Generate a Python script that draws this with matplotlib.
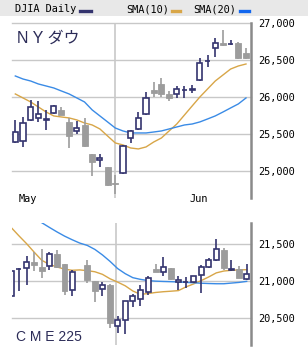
import numpy as np
import matplotlib
matplotlib.use("Agg")
import matplotlib.pyplot as plt
from matplotlib.patches import Rectangle
from matplotlib.lines import Line2D
from matplotlib.transforms import blended_transform_factory

# DJIA daily, 2019-05-14 .. 2019-06-26
dj_open = [25392, 25405, 25689, 25716, 25690, 25784, 25824, 25662, 25540, 25622,
           25230, 25149, 25054, 24838, 24973, 25446, 25568, 25770, 26095, 26176,
           26041, 26041, 26090, 26095, 26230, 26480, 26662, 26730, 26710, 26730, 26595]
dj_high = [25689, 25730, 25959, 25946, 25824, 25892, 25860, 25716, 25676, 25716,
           25230, 25230, 25060, 24946, 25351, 25554, 25797, 26068, 26203, 26257,
           26081, 26149, 26149, 26162, 26527, 26568, 26797, 26905, 26770, 26743, 26662]
dj_low = [25380, 25324, 25676, 25662, 25554, 25770, 25750, 25311, 25500, 25324,
          24932, 25054, 24795, 24689, 24960, 25378, 25555, 25760, 26000, 26000,
          25946, 25986, 25986, 26054, 26220, 26405, 26541, 26689, 26703, 26520, 26520]
dj_close = [25527, 25649, 25865, 25770, 25700, 25878, 25757, 25473, 25581, 25338,
            25122, 25176, 24811, 24824, 25338, 25540, 25716, 25986, 26054, 26041,
            25986, 26108, 26100, 26108, 26459, 26486, 26730, 26703, 26716, 26527, 26527]
dj_sma10 = [26041, 25987, 25933, 25865, 25798, 25744, 25730, 25717, 25690, 25649,
            25622, 25568, 25473, 25379, 25352, 25311, 25298, 25325, 25392, 25446,
            25541, 25635, 25757, 25879, 26000, 26108, 26216, 26297, 26378, 26419, 26446]
dj_sma20 = [26284, 26243, 26216, 26176, 26149, 26122, 26081, 26041, 25987, 25933,
            25825, 25744, 25663, 25581, 25541, 25514, 25514, 25514, 25527, 25541,
            25568, 25595, 25622, 25635, 25663, 25703, 25744, 25797, 25852, 25906, 25987]
dj_ticks = [26500, 26000, 25500, 25000]
dj_tick_labels = ["26,500", "26,000", "25,500", "25,000"]

# CME 225 (slot 9 has no bar)
nan = np.nan
cme_open = [20800, 21157, 21175, 21256, 21193, 21198, 21364, 21229, 20873, nan,
            21211, 21004, 20896, 20950, 20391, 20468, 20734, 20756, 20851, 21166,
            21121, 21175, 20981, 20981, 20981, 21085, 21189, 21279, 21423, 21144, 21162, 21031]
cme_high = [21140, 21175, 21333, 21391, 21437, 21391, 21414, 21235, 21153, nan,
            21288, 21004, 20981, 20955, 20531, 20730, 20828, 20950, 21063, 21229,
            21324, 21180, 21063, 21054, 21070, 21220, 21310, 21567, 21446, 21279, 21198, 21229]
cme_low = [20790, 20869, 20941, 21130, 21040, 21153, 21170, 20815, 20792, nan,
           20972, 20711, 20801, 20364, 20297, 20283, 20648, 20666, 20815, 21115,
           21063, 21018, 20882, 20905, 20970, 20837, 21175, 21275, 21153, 21130, 21035, 21018]
cme_close = [21130, 21166, 21256, 21220, 21139, 21364, 21184, 20860, 21121, nan,
             21009, 20869, 20950, 20427, 20472, 20725, 20801, 20873, 21040, 21121,
             21189, 21031, 21009, 20990, 21063, 21189, 21279, 21432, 21175, 21162, 21040, 21094]
cme_sma10 = [21720, 21610, 21505, 21390, 21280, 21225, 21190, 21160, 21145, 21150,
             21140, 21125, 21090, 21030, 20985, 20935, 20865, 20820, 20830, 20845,
             20855, 20862, 20870, 20920, 20960, 21005, 21055, 21110, 21135, 21145, 21150, 21153]
cme_sma20 = [21970, 21930, 21890, 21840, 21788, 21725, 21664, 21607, 21558, 21513,
             21481, 21427, 21352, 21265, 21168, 21099, 21045, 21022, 21006, 20998,
             20994, 20991, 20987, 20981, 20976, 20970, 20966, 20963, 20963, 20972, 20981, 20995]
cme_ticks = [21500, 21000, 20500]
cme_tick_labels = ["21,500", "21,000", "20,500"]

NAVY = "#34346e"
GRAY = "#9c9c9c"
ORANGE = "#d8a648"
BLUE = "#3a8be6"
GRID = "#c8c8c8"
MONO = "DejaVu Sans Mono"

W, H = 308, 355
fig = plt.figure(figsize=(W / 100, H / 100), dpi=100)
fig.patch.set_facecolor("white")


def px_axes(x0, y0, x1, y1):
    return fig.add_axes([x0 / W, 1 - y1 / H, (x1 - x0) / W, (y1 - y0) / H])


def candles(ax, o, h, l, c):
    o, h, l, c = map(np.asarray, (o, h, l, c))
    x = np.arange(len(o))
    ok = ~np.isnan(o)
    up = ok & (c >= o)
    dn = ok & (c < o)
    ax.vlines(x[dn], l[dn], h[dn], color=GRAY, lw=1.2, zorder=3)
    ax.bar(x[dn], (o - c)[dn], bottom=c[dn], width=0.78, color=GRAY,
           edgecolor=GRAY, lw=0.6, zorder=4)
    ax.vlines(x[up], l[up], h[up], color=NAVY, lw=1.2, zorder=3)
    ax.bar(x[up], (c - o)[up], bottom=o[up], width=0.66, color="white",
           edgecolor=NAVY, lw=1.2, zorder=4)


def style(ax, ticks, labels, ylim, xlim, vline):
    ax.set_xlim(*xlim)
    ax.set_ylim(*ylim)
    for s in ("top", "left", "bottom"):
        ax.spines[s].set_visible(False)
    ax.spines["right"].set_color("#8a8a8a")
    ax.spines["right"].set_linewidth(1.8)
    ax.yaxis.tick_right()
    ax.set_yticks(ticks)
    ax.set_yticklabels(labels, fontfamily=MONO, fontsize=7.4)
    ax.tick_params(axis="y", length=0, pad=5.5)
    ax.set_xticks([])
    for t in ticks:
        ax.axhline(t, color=GRID, lw=1, zorder=1, clip_on=False)
    ax.axvline(vline, color=GRID, lw=1.2, zorder=1)


# top panel: DJIA
ax1 = px_axes(12, 23, 251, 198)
candles(ax1, dj_open, dj_high, dj_low, dj_close)
idx = np.arange(len(dj_close))
ax1.plot(idx, dj_sma10, color=ORANGE, lw=1, zorder=2)
ax1.plot(idx, dj_sma20, color=BLUE, lw=1, zorder=2)
style(ax1, [27000] + dj_ticks, ["27,000"] + dj_tick_labels,
      (24635, 27000), (-0.43, 30.65), 12.95)
tr = blended_transform_factory(ax1.transData, ax1.transAxes)
ax1.text(1.65, -0.006, "May", transform=tr, ha="center", va="center",
         fontfamily=MONO, fontsize=7.4)
ax1.text(23.8, -0.006, "Jun", transform=tr, ha="center", va="center",
         fontfamily=MONO, fontsize=7.4)

# bottom panel: CME 225
ax2 = px_axes(12, 223, 251, 345)
candles(ax2, cme_open, cme_high, cme_low, cme_close)
slots = np.arange(len(cme_close))
ax2.plot(slots, cme_sma10, color=ORANGE, lw=1, zorder=2)
ax2.plot(slots, cme_sma20, color=BLUE, lw=1, zorder=2)
style(ax2, cme_ticks, cme_tick_labels, (20135, 21784), (0.08, 31.57), 13.75)

# header band with legend
fig.patches.append(Rectangle((0, 1 - 16 / H), 1, 16 / H, transform=fig.transFigure,
                             facecolor="#e8e8e8", edgecolor="none", zorder=0))
hy = 1 - 9 / H
fig.text(15 / W, hy, "DJIA Daily", fontfamily=MONO, fontsize=7.4, va="center")
fig.text(126 / W, hy, "SMA(10)", fontfamily=MONO, fontsize=7.4, va="center")
fig.text(193 / W, hy, "SMA(20)", fontfamily=MONO, fontsize=7.4, va="center")
for x0, x1, col in ((80, 91, NAVY), (172, 180, ORANGE), (240, 249, "#1166ee")):
    fig.add_artist(Line2D([x0 / W, x1 / W], [1 - 10.5 / H] * 2, color=col, lw=2.4,
                          transform=fig.transFigure))

fig.text(17 / W, 1 - 38.5 / H, "N Y ダウ", family=["Liberation Sans", "Noto Sans CJK JP"],
         fontsize=11.5, color="#2c2c58", va="center")
fig.text(16 / W, 1 - 337 / H, "C M E 225", family=["Liberation Sans"],
         fontsize=10, color="#2c2c58", va="center")

fig.savefig("out.png", dpi=100)
